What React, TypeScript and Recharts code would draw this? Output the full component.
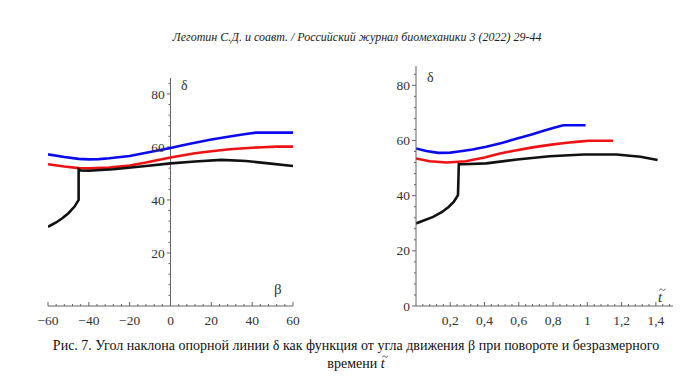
import { LineChart, Line, XAxis, YAxis, ReferenceLine } from 'recharts'

// Left panel: delta vs beta
const betaBlue = [-60, -52, -45, -40, -35, -30, -20, -10, 0, 6, 12, 20, 29, 36, 42, 50, 60]
const deltaBlueBeta = [57.2, 56.2, 55.5, 55.3, 55.4, 55.7, 56.6, 58.1, 59.6, 60.6, 61.6, 62.8, 63.9, 64.8, 65.4, 65.4, 65.4]

const betaRed = [-60, -52, -45, -40, -30, -20, -12, 0, 12, 20, 29, 38, 45, 52, 60]
const deltaRedBeta = [53.5, 52.6, 52.0, 51.9, 52.2, 53.0, 54.1, 56.0, 57.6, 58.4, 59.1, 59.6, 59.9, 60.1, 60.1]

const betaBlack = [-60, -56, -53, -50, -47, -45, -45, -44, -40, -28, -12, 0, 12, 25, 37, 48, 60]
const deltaBlackBeta = [29.9, 31.5, 33.1, 35.0, 37.5, 40.0, 51.6, 51.1, 51.0, 51.6, 52.8, 53.8, 54.5, 55.1, 54.7, 53.8, 52.8]

// Right panel: delta vs dimensionless time
const tBlue = [0, 0.06, 0.13, 0.2, 0.25, 0.33, 0.41, 0.5, 0.59, 0.67, 0.74, 0.8, 0.86, 0.92, 0.99]
const deltaBlueT = [57.1, 56.2, 55.5, 55.6, 56.0, 56.7, 57.7, 59.1, 60.7, 62.1, 63.4, 64.5, 65.5, 65.5, 65.5]

const tRed = [0, 0.08, 0.18, 0.29, 0.4, 0.49, 0.58, 0.68, 0.78, 0.88, 0.95, 1.01, 1.08, 1.15]
const deltaRedT = [53.5, 52.5, 52.0, 52.5, 53.8, 55.3, 56.4, 57.5, 58.4, 59.2, 59.6, 59.9, 59.9, 59.9]

const tBlack = [0, 0.1, 0.15, 0.19, 0.22, 0.245, 0.25, 0.27, 0.41, 0.59, 0.78, 0.98, 1.17, 1.31, 1.41]
const deltaBlackT = [29.9, 32.3, 34.0, 35.9, 37.7, 40.2, 51.4, 51.4, 51.7, 53.1, 54.3, 54.9, 54.9, 54.1, 52.9]

// ticks
const betaTicks = Array.from({ length: 31 }, (_, i) => -60 + i * 4)
const deltaTicks = Array.from({ length: 22 }, (_, i) => i * 4)
const tTicks = Array.from({ length: 37 }, (_, i) => ((i + 1) * 4) / 100)

const font = "'Liberation Serif', 'Times New Roman', serif"
const axisColor = '#666'
const labelColor = '#333'
const BLUE = '#0a0aee'
const RED = '#ee1212'
const BLACK = '#111'

const pts = (xs: number[], ys: number[]) => xs.map((x, i) => ({ x, y: ys[i] }))

const BetaTick = (props: any) => {
  const { x, y, payload } = props
  const v = payload.value
  const major = v % 20 === 0
  return (
    <g>
      <line x1={x} x2={x} y1={y} y2={y - (major ? 4 : 2)} stroke={axisColor} />
      {major && (
        <text x={x} y={y + 19} textAnchor="middle" fontFamily={font} fontSize={13.5} fill={labelColor}>
          {v < 0 ? '\u2212' + Math.abs(v) : String(v)}
        </text>
      )}
    </g>
  )
}

const TTick = (props: any) => {
  const { x, y, payload } = props
  const v = payload.value
  const major = Math.abs(v * 5 - Math.round(v * 5)) < 1e-6
  return (
    <g>
      <line x1={x} x2={x} y1={y} y2={y - (major ? 4 : 2)} stroke={axisColor} />
      {major && (
        <text x={x} y={y + 19} textAnchor="middle" fontFamily={font} fontSize={13.5} fill={labelColor}>
          {String(Math.round(v * 10) / 10).replace('.', ',')}
        </text>
      )}
    </g>
  )
}

const DeltaTick = (props: any) => {
  const { x, y, payload } = props
  const v = payload.value
  const major = v % 20 === 0
  return (
    <g>
      <line x1={x - (major ? 4 : 2)} x2={x} y1={y} y2={y} stroke={axisColor} />
      {major && (
        <text x={x - 6} y={y + 4.5} textAnchor="end" fontFamily={font} fontSize={13.5} fill={labelColor}>
          {String(v)}
        </text>
      )}
    </g>
  )
}

const txt = (left: number, top: number, s: string, size: number) => (
  <div
    style={{
      position: 'absolute',
      left,
      top,
      fontFamily: font,
      fontSize: size,
      color: labelColor,
      lineHeight: 1,
      whiteSpace: 'nowrap',
    }}
  >
    {s}
  </div>
)

// italic t with a small drawn tilde above it
const TTilde = ({ size }: { size: number }) => (
  <span style={{ position: 'relative', display: 'inline-block', fontStyle: 'italic', fontSize: size, lineHeight: 1 }}>
    t
    <svg
      width={size * 0.45}
      height={size * 0.22}
      viewBox="0 0 10 5"
      style={{ position: 'absolute', left: size * 0.08, top: -size * 0.12 }}
    >
      <path d="M0.5 4 C2 0.5 4 0.8 5 2.5 C6 4.2 8 4.5 9.5 1" fill="none" stroke="currentColor" strokeWidth={1.1} />
    </svg>
  </span>
)

export default function App() {
  return (
    <div style={{ position: 'absolute', left: 0, top: 0, width: 700, height: 384, background: '#fff', overflow: 'hidden' }}>
      <div
        style={{
          position: 'absolute',
          left: 0,
          width: 714,
          top: 31,
          textAlign: 'center',
          fontFamily: font,
          fontStyle: 'italic',
          fontSize: 12,
          color: '#222',
          lineHeight: 1,
        }}
      >
        Леготин С.Д. и соавт. / Российский журнал биомеханики 3 (2022) 29-44
      </div>

      <div style={{ position: 'absolute', left: 0, top: 0 }}>
        <LineChart width={320} height={340} margin={{ top: 78, right: 27, bottom: 14, left: 48 }}>
          <XAxis
            type="number"
            dataKey="x"
            domain={[-60, 60]}
            ticks={betaTicks}
            interval={0}
            tickSize={0}
            tickMargin={0}
            tickLine={false}
            height={20}
            stroke={axisColor}
            tick={BetaTick}
            allowDataOverflow
          />
          <YAxis type="number" domain={[0, 86]} hide allowDataOverflow />
          <ReferenceLine x={0} stroke={axisColor} />
          {deltaTicks
            .filter((v) => v > 0)
            .map((v) => {
              const major = v % 20 === 0
              return (
                <ReferenceLine
                  key={v}
                  segment={[
                    { x: major ? -1.8 : -1, y: v },
                    { x: 0, y: v },
                  ]}
                  stroke={axisColor}
                  label={
                    major
                      ? { value: String(v), position: 'left', offset: 2, fontFamily: font, fontSize: 13.5, fill: labelColor }
                      : undefined
                  }
                />
              )
            })}
          <Line data={pts(betaBlue, deltaBlueBeta)} dataKey="y" type="linear" stroke={BLUE} strokeWidth={2.6} dot={false} isAnimationActive={false} />
          <Line data={pts(betaRed, deltaRedBeta)} dataKey="y" type="linear" stroke={RED} strokeWidth={2.6} dot={false} isAnimationActive={false} />
          <Line data={pts(betaBlack, deltaBlackBeta)} dataKey="y" type="linear" stroke={BLACK} strokeWidth={2.6} dot={false} isAnimationActive={false} />
        </LineChart>
      </div>

      <div style={{ position: 'absolute', left: 340, top: 0 }}>
        <LineChart width={350} height={340} margin={{ top: 66, right: 17, bottom: 14, left: 46 }}>
          <XAxis
            type="number"
            dataKey="x"
            domain={[0, 1.5]}
            ticks={tTicks}
            interval={0}
            tickSize={0}
            tickMargin={0}
            tickLine={false}
            height={20}
            stroke={axisColor}
            tick={TTick}
            allowDataOverflow
          />
          <YAxis
            type="number"
            domain={[0, 87]}
            ticks={deltaTicks}
            interval={0}
            tickSize={0}
            tickMargin={0}
            tickLine={false}
            width={30}
            stroke={axisColor}
            tick={DeltaTick}
            allowDataOverflow
          />
          <Line data={pts(tBlue, deltaBlueT)} dataKey="y" type="linear" stroke={BLUE} strokeWidth={2.6} dot={false} isAnimationActive={false} />
          <Line data={pts(tRed, deltaRedT)} dataKey="y" type="linear" stroke={RED} strokeWidth={2.6} dot={false} isAnimationActive={false} />
          <Line data={pts(tBlack, deltaBlackT)} dataKey="y" type="linear" stroke={BLACK} strokeWidth={2.6} dot={false} isAnimationActive={false} />
        </LineChart>
      </div>

      {txt(181, 79, 'δ', 14)}
      {txt(274, 282, 'β', 15)}
      {txt(427, 71, 'δ', 14)}
      <div style={{ position: 'absolute', left: 658, top: 288, fontFamily: font, color: labelColor }}>
        <TTilde size={15} />
      </div>

      <div
        style={{
          position: 'absolute',
          left: 0,
          width: 712,
          top: 337,
          textAlign: 'center',
          fontFamily: font,
          fontSize: 14,
          color: '#111',
          lineHeight: '18px',
        }}
      >
        <div>Рис. 7. Угол наклона опорной линии δ как функция от угла движения β при повороте и безразмерного</div>
        <div>
          времени <TTilde size={14} />
        </div>
      </div>
    </div>
  )
}
